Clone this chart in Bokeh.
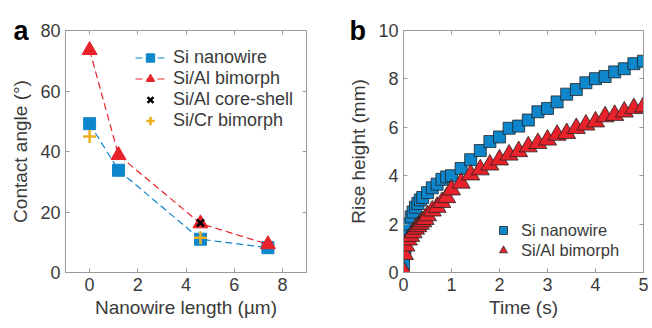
from bokeh.plotting import figure
from bokeh.layouts import row
from bokeh.models import (Range1d, LinearAxis, FixedTicker, Title, Legend, LegendItem,
                          CustomJSTickFormatter)
from bokeh.embed import file_html
from bokeh.resources import INLINE

# ---- panel a data ----
len_si = [0, 1.2, 4.6, 7.4]
ang_si = [49.2, 33.8, 11.0, 8.2]
len_bi = [0, 1.2, 4.6, 7.4]
ang_bi = [73.5, 38.8, 16.2, 9.3]
len_cs = [4.6]
ang_cs = [16.4]
len_cr = [0, 4.6]
ang_cr = [45.0, 11.5]

# ---- panel b data ----
t_si = [0, 0.03, 0.05, 0.08, 0.12, 0.16, 0.2, 0.25, 0.3, 0.35, 0.4, 0.5, 0.6, 0.7, 0.8, 0.9,
        1.0, 1.2, 1.4, 1.6, 1.8, 2.0, 2.2, 2.4, 2.6, 2.8, 3.0, 3.2, 3.4, 3.6, 3.8, 4.0, 4.2,
        4.4, 4.6, 4.8, 5.0]
h_si = [0.35, 1.0, 1.6, 1.8, 2.0, 2.3, 2.5, 2.7, 2.85, 3.0, 3.1, 3.3, 3.5, 3.65, 3.85, 3.95,
        4.0, 4.3, 4.66, 5.04, 5.41, 5.6, 5.96, 6.05, 6.3, 6.64, 6.78, 7.05, 7.37, 7.56, 7.84,
        8.01, 8.1, 8.29, 8.42, 8.63, 8.73]
t_bi = [0, 0.02, 0.05, 0.1, 0.15, 0.2, 0.25, 0.3, 0.35, 0.4, 0.45, 0.5, 0.6, 0.7, 0.8, 0.9,
        1.0, 1.2, 1.4, 1.6, 1.8, 2.0, 2.2, 2.4, 2.6, 2.8, 3.0, 3.2, 3.4, 3.6, 3.8, 4.0, 4.2,
        4.4, 4.6, 4.8, 5.0]
h_bi = [0.05, 0.75, 1.1, 1.35, 1.5, 1.65, 1.8, 1.9, 2.0, 2.1, 2.2, 2.35, 2.55, 2.7, 2.9, 3.1,
        3.42, 3.7, 4.04, 4.25, 4.45, 4.66, 4.86, 5.0, 5.2, 5.34, 5.48, 5.68, 5.75, 5.96, 6.1,
        6.23, 6.44, 6.5, 6.64, 6.78, 6.85]

xticks_a = [0, 2, 4, 6, 8]
yticks_a = [0, 20, 40, 60, 80]
xticks_b = [0, 1, 2, 3, 4, 5]
yticks_b = [0, 2, 4, 6, 8, 10]

BLUE = "#0e86cc"
RED = "#e8222b"
ORANGE = "#edb120"
FONT = "Liberation Sans"
FRAME = "#9a9a9a"
TXT = "#3a3a3a"


def mirror_axis(ticks):
    return LinearAxis(ticker=FixedTicker(ticks=ticks),
                      formatter=CustomJSTickFormatter(code="return ''"),
                      axis_line_color=FRAME, major_tick_line_color=FRAME, major_tick_in=4,
                      major_tick_out=0, minor_tick_line_color=None, major_label_standoff=0)


def style(p, xt, yt, xlabel, ylabel):
    p.outline_line_color = FRAME
    p.outline_line_width = 1
    p.grid.visible = False
    p.background_fill_color = "white"
    p.border_fill_color = "white"
    for ax in p.xaxis + p.yaxis:
        ax.axis_line_color = FRAME
        ax.major_tick_line_color = FRAME
        ax.major_tick_in = 4
        ax.major_tick_out = 0
        ax.minor_tick_line_color = None
        ax.major_label_text_font = FONT
        ax.major_label_text_font_size = "18px"
        ax.major_label_text_color = TXT
        ax.axis_label_text_font = FONT
        ax.axis_label_text_font_size = "19px"
        ax.axis_label_text_font_style = "normal"
        ax.axis_label_text_color = TXT
        ax.major_label_standoff = 5
    p.xaxis.ticker = FixedTicker(ticks=xt)
    p.yaxis.ticker = FixedTicker(ticks=yt)
    p.xaxis.axis_label = xlabel
    p.yaxis.axis_label = ylabel
    p.xaxis.axis_label_standoff = 3
    p.yaxis.axis_label_standoff = 6
    p.add_layout(mirror_axis(xt), "above")
    p.add_layout(mirror_axis(yt), "right")


def panel_title(letter, offset):
    return Title(text=letter, align="left", offset=offset, standoff=-30,
                 vertical_align="bottom", text_font=FONT, text_font_size="27px",
                 text_font_style="bold", text_color="black")


# ---------------- panel a ----------------
pa = figure(width=326, height=320, output_backend="svg", toolbar_location=None,
            x_range=Range1d(-1, 9), y_range=Range1d(0, 80),
            min_border_left=65, min_border_right=20, min_border_top=30, min_border_bottom=47)
style(pa, xticks_a, yticks_a, "Nanowire length (µm)", "Contact angle (°)")
pa.add_layout(panel_title("a", -52), "above")

l1 = pa.line(len_si, ang_si, color=BLUE, line_width=1.2, line_dash="7 4")
s1 = pa.scatter(len_si, ang_si, marker="square", size=12, fill_color=BLUE, line_color=BLUE)
l2 = pa.line(len_bi, ang_bi, color=RED, line_width=1.2, line_dash="7 4")
s2 = pa.scatter(len_bi, ang_bi, marker="triangle", size=15, fill_color=RED, line_color=RED)
s3 = pa.scatter(len_cs, ang_cs, marker="x", size=10, line_color="black", line_width=2.5)
s4 = pa.scatter(len_cr, ang_cr, marker="cross", size=13, line_color=ORANGE, line_width=2.5)

leg_a = Legend(items=[
    LegendItem(label="Si nanowire", renderers=[l1, s1]),
    LegendItem(label="Si/Al bimorph", renderers=[l2, s2]),
    LegendItem(label="Si/Al core-shell", renderers=[s3]),
    LegendItem(label="Si/Cr bimorph", renderers=[s4]),
], location=(70, 141))
leg_a.border_line_color = None
leg_a.background_fill_alpha = 0
leg_a.label_text_font = FONT
leg_a.label_text_font_size = "18px"
leg_a.label_text_color = TXT
leg_a.glyph_width = 30
leg_a.glyph_height = 21
leg_a.spacing = 0
leg_a.margin = 0
leg_a.padding = 5
leg_a.label_standoff = 8
pa.add_layout(leg_a)

# ---------------- panel b ----------------
pb = figure(width=326, height=320, output_backend="svg", toolbar_location=None,
            x_range=Range1d(0, 5), y_range=Range1d(0, 10),
            min_border_left=77, min_border_right=9, min_border_top=30, min_border_bottom=47)
style(pb, xticks_b, yticks_b, "Time (s)", "Rise height (mm)")
pb.add_layout(panel_title("b", -54), "above")

b1 = pb.scatter(t_si, h_si, marker="square", size=12, fill_color=BLUE, line_color="#222222",
                line_width=0.8)
b2 = pb.scatter(t_bi, h_bi, marker="triangle", size=18, fill_color=RED, line_color="#222222",
                line_width=0.8)

leg_b = Legend(items=[
    LegendItem(label="Si nanowire", renderers=[b1]),
    LegendItem(label="Si/Al bimorph", renderers=[b2]),
], location=(90, 12))
leg_b.border_line_color = None
leg_b.background_fill_alpha = 0
leg_b.label_text_font = FONT
leg_b.label_text_font_size = "16.5px"
leg_b.label_text_color = TXT
leg_b.glyph_width = 20
leg_b.glyph_height = 20
leg_b.spacing = 0
leg_b.margin = 0
leg_b.padding = 5
leg_b.label_standoff = 8
pb.add_layout(leg_b)

layout = row(pa, pb, spacing=0)
open("out.html", "w").write(file_html(layout, INLINE))
